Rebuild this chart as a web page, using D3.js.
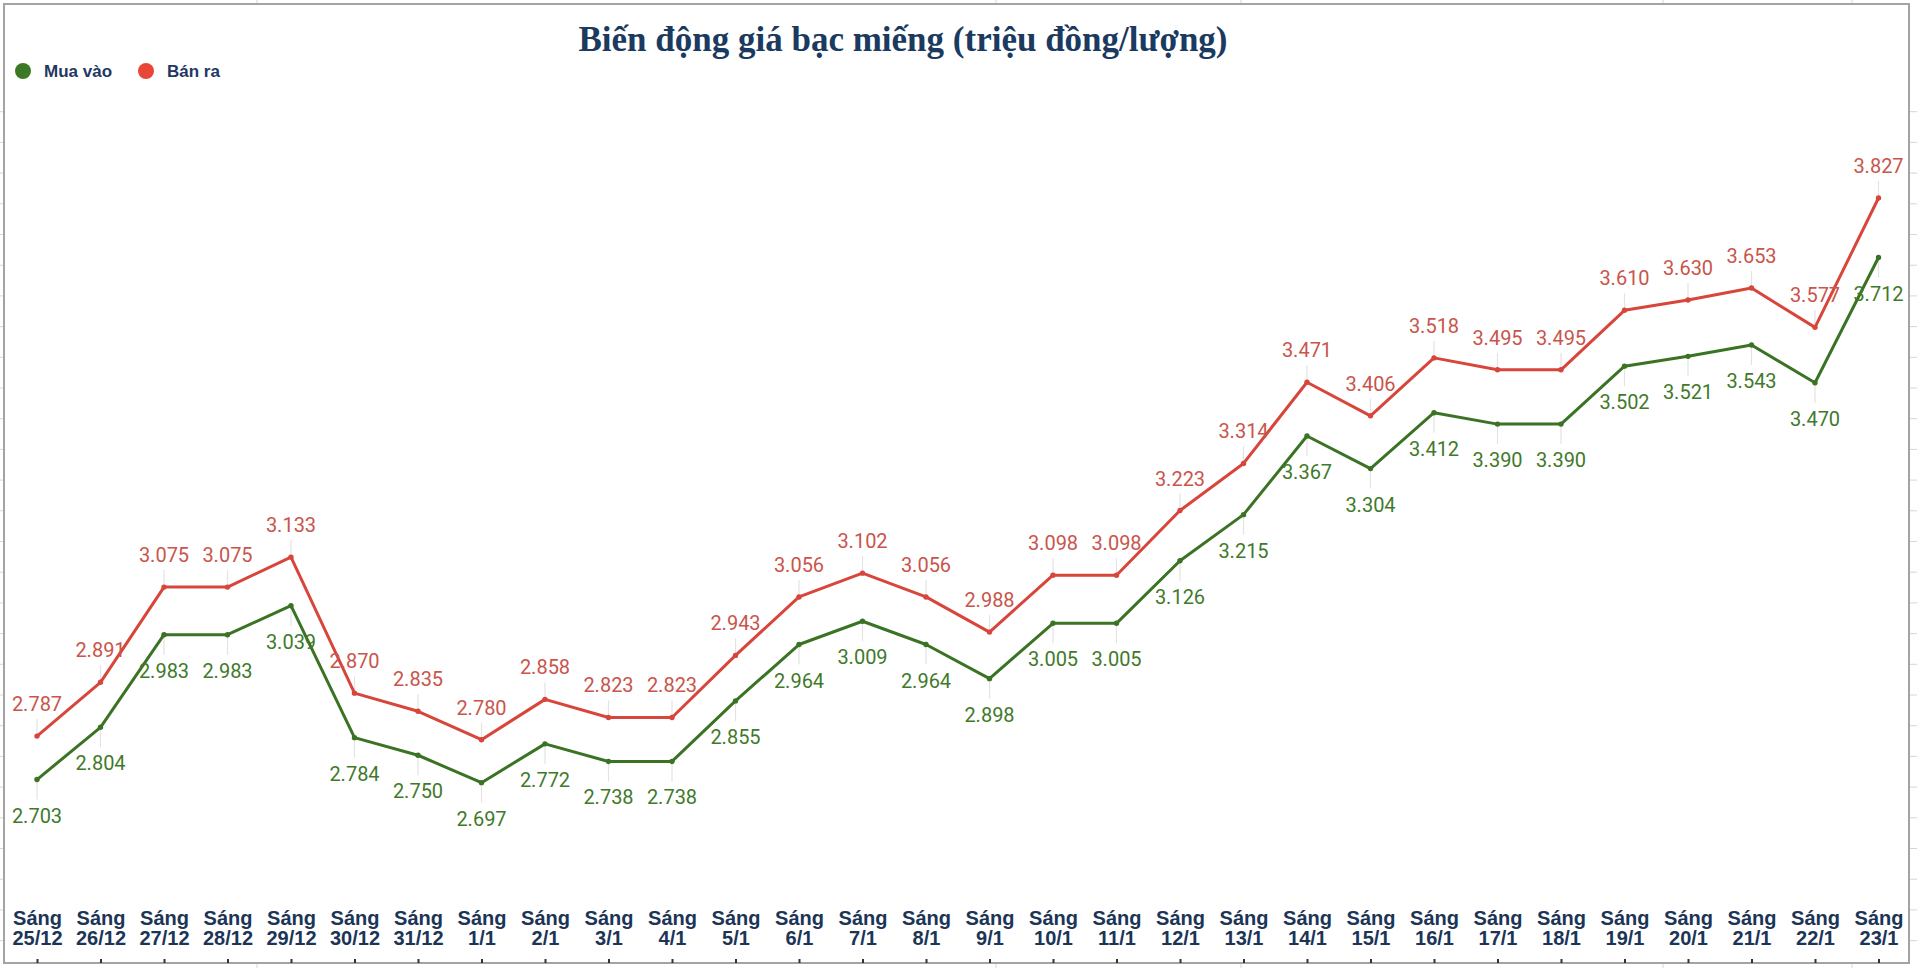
<!DOCTYPE html>
<html>
<head>
<meta charset="utf-8">
<script src="https://cdn.jsdelivr.net/npm/d3@7"></script>
<style>
body { margin: 0; background: #fff; }
</style>
</head>
<body>
<svg id="chart"></svg>
<script>
var categories = ["Sáng 25/12", "Sáng 26/12", "Sáng 27/12", "Sáng 28/12", "Sáng 29/12", "Sáng 30/12", "Sáng 31/12",
  "Sáng 1/1", "Sáng 2/1", "Sáng 3/1", "Sáng 4/1", "Sáng 5/1", "Sáng 6/1", "Sáng 7/1", "Sáng 8/1", "Sáng 9/1",
  "Sáng 10/1", "Sáng 11/1", "Sáng 12/1", "Sáng 13/1", "Sáng 14/1", "Sáng 15/1", "Sáng 16/1", "Sáng 17/1",
  "Sáng 18/1", "Sáng 19/1", "Sáng 20/1", "Sáng 21/1", "Sáng 22/1", "Sáng 23/1"];

var buyValues = [2.703, 2.804, 2.983, 2.983, 3.039, 2.784, 2.750, 2.697, 2.772, 2.738, 2.738, 2.855, 2.964, 3.009, 2.964,
  2.898, 3.005, 3.005, 3.126, 3.215, 3.367, 3.304, 3.412, 3.390, 3.390, 3.502, 3.521, 3.543, 3.470, 3.712];

var sellValues = [2.787, 2.891, 3.075, 3.075, 3.133, 2.870, 2.835, 2.780, 2.858, 2.823, 2.823, 2.943, 3.056, 3.102, 3.056,
  2.988, 3.098, 3.098, 3.223, 3.314, 3.471, 3.406, 3.518, 3.495, 3.495, 3.610, 3.630, 3.653, 3.577, 3.827];

var seriesNames = ["Mua vào", "Bán ra"];
var title = "Biến động giá bạc miếng (triệu đồng/lượng)";

var drawChart = function()
{
  var width = 1917;
  var height = 968;

  var svg = d3.select("#chart")
              .attr("width", width)
              .attr("height", height);

  var x = d3.scalePoint().domain(categories).range([37, 1878.5]);
  var y = d3.scaleLinear().domain([2.5, 4.0]).range([884.6, 108.5]);

  /* faint sheet grid peeking outside the frame */
  var deco = svg.append("g").attr("stroke", "#d6d6d6").attr("stroke-width", 1);
  d3.range(28).forEach(function(k)
  {
    var yy = 111.7 + k * 30.7;
    deco.append("line").attr("x1", 0).attr("x2", 4).attr("y1", yy).attr("y2", yy);
    deco.append("line").attr("x1", 1910).attr("x2", 1917).attr("y1", yy).attr("y2", yy);
  });
  [257, 996, 1241, 1663, 1852].forEach(function(xx)
  {
    deco.append("line").attr("x1", xx).attr("x2", xx).attr("y1", 0).attr("y2", 4);
    deco.append("line").attr("x1", xx).attr("x2", xx).attr("y1", 963).attr("y2", 968);
  });

  /* frame */
  svg.append("rect")
     .attr("x", 4).attr("y", 4)
     .attr("width", 1905).attr("height", 959)
     .attr("fill", "none")
     .attr("stroke", "#a3a3a3")
     .attr("stroke-width", 2);

  /* title */
  svg.append("text")
     .text(title)
     .attr("x", 903)
     .attr("y", 51)
     .attr("text-anchor", "middle")
     .style("font-family", "'Liberation Serif', 'Times New Roman', serif")
     .style("font-weight", "bold")
     .style("font-size", "35px")
     .attr("fill", "#1b3a5f");

  /* legend */
  var legend = svg.append("g");
  var legendColors = ["#3b7a24", "#e9463a"];
  var legendX = [23, 146];
  legend.selectAll("circle")
        .data(seriesNames)
        .enter()
        .append("circle")
        .attr("cx", function(d, i) { return legendX[i]; })
        .attr("cy", 71)
        .attr("r", 8)
        .attr("fill", function(d, i) { return legendColors[i]; });
  legend.selectAll("text")
        .data(seriesNames)
        .enter()
        .append("text")
        .text(function(d) { return d; })
        .attr("x", function(d, i) { return legendX[i] + 21; })
        .attr("y", 77)
        .style("font-family", "'Liberation Sans', Arial, sans-serif")
        .style("font-weight", "bold")
        .style("font-size", "17px")
        .attr("fill", "#1f3864");

  /* x axis: ticks under the two-line labels */
  var gx = svg.append("g")
              .attr("transform", "translate(0,963)")
              .call(d3.axisTop(x).tickSize(4).tickFormat(""));
  gx.select(".domain").remove();
  gx.selectAll(".tick line").attr("stroke", "#333").attr("stroke-width", 2);
  gx.selectAll(".tick text").remove();
  var tickText = gx.selectAll(".tick")
                   .append("text")
                   .attr("text-anchor", "middle")
                   .style("font-family", "'Liberation Sans', Arial, sans-serif")
                   .style("font-weight", "bold")
                   .style("font-size", "20px")
                   .attr("fill", "#1c3557");
  tickText.append("tspan").attr("x", 0).attr("y", -38).text(function(d) { return d.split(" ")[0]; });
  tickText.append("tspan").attr("x", 0).attr("y", -18).text(function(d) { return d.split(" ")[1]; });

  var series = [
    { name: seriesNames[0], values: buyValues, line: "#3b7324", text: "#3f7a2b", side: 1 },
    { name: seriesNames[1], values: sellValues, line: "#d8453b", text: "#c9554c", side: -1 }
  ];

  var line = d3.line()
               .x(function(d, i) { return x(categories[i]); })
               .y(function(d) { return y(d); });

  var fmt = d3.format(".3f");

  /* leader lines */
  series.forEach(function(s)
  {
    svg.append("g")
       .selectAll("line")
       .data(s.values)
       .enter()
       .append("line")
       .attr("x1", function(d, i) { return x(categories[i]); })
       .attr("x2", function(d, i) { return x(categories[i]); })
       .attr("y1", function(d) { return y(d); })
       .attr("y2", function(d) { return y(d) + (s.side > 0 ? 20 : -17); })
       .attr("stroke", "#e3e3e3")
       .attr("stroke-width", 1.2);
  });

  series.forEach(function(s)
  {
    svg.append("path")
       .datum(s.values)
       .attr("d", line)
       .attr("fill", "none")
       .attr("stroke", s.line)
       .attr("stroke-width", 3)
       .attr("stroke-linejoin", "round");

    svg.append("g")
       .selectAll("circle")
       .data(s.values)
       .enter()
       .append("circle")
       .attr("cx", function(d, i) { return x(categories[i]); })
       .attr("cy", function(d) { return y(d); })
       .attr("r", 2.7)
       .attr("fill", s.line);
  });

  series.forEach(function(s)
  {
    svg.append("g")
       .selectAll("text")
       .data(s.values)
       .enter()
       .append("text")
       .text(function(d) { return fmt(d); })
       .attr("x", function(d, i) { return x(categories[i]); })
       .attr("y", function(d) { return y(d) + (s.side > 0 ? 43 : -25); })
       .attr("text-anchor", "middle")
       .style("font-family", "Roboto, sans-serif")
       .style("font-size", "20px")
       .attr("fill", s.text);
  });
}

drawChart();
</script>
</body>
</html>
